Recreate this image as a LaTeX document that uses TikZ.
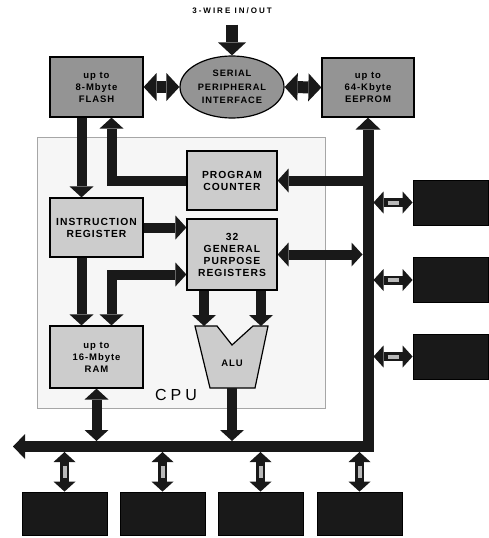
\documentclass[tikz,border=0pt]{standalone}
\usepackage{fontspec}
\setmainfont{Liberation Sans}
\newfontfamily\boxfont[LetterSpace=10]{Liberation Sans}
\newfontfamily\wirefont[LetterSpace=25]{Liberation Sans}
\newfontfamily\cpufont[LetterSpace=25]{Liberation Sans}
\usepackage{tikz}
\usetikzlibrary{arrows.meta,shapes.geometric}
\definecolor{memfill}{gray}{0.58}
\definecolor{regfill}{gray}{0.80}
\definecolor{cpuback}{gray}{0.965}
\definecolor{iofill}{gray}{0.10}
\definecolor{flowblk}{gray}{0.10}

\tikzset{
  >={Triangle[width=24pt,length=11pt,line width=0pt]},
  memtext/.style={font=\boxfont\bfseries\fontsize{9.5}{12}\selectfont},
  regtext/.style={font=\boxfont\bfseries\fontsize{10.3}{12}\selectfont},
  membox/.style={draw=black, line width=1.2pt, fill=memfill, minimum width=93pt, minimum height=60pt, align=center, inner sep=0pt, memtext},
  regbox/.style={draw=black, line width=1.2pt, fill=regfill, minimum width=90pt, minimum height=59pt, align=center, inner sep=0pt, regtext},
  spibox/.style={ellipse, draw=black, line width=1.2pt, fill=memfill, minimum width=104pt, minimum height=62pt, align=center, inner sep=0pt, font=\boxfont\bfseries\fontsize{9.3}{13.5}\selectfont},
  cpuarea/.style={draw=gray!70, line width=0.6pt, fill=cpuback},
  alubox/.style={draw=black, line width=1.2pt, fill=regfill, line join=miter},
  iobox/.style={draw=black, line width=0.8pt, fill=iofill, inner sep=0pt},
  flow/.style={draw=flowblk, line width=10pt, line join=miter},
  spiflow/.style={draw=flowblk, line width=12pt, >={Triangle[width=28pt,length=13pt,line width=0pt]}},
  bus/.style={draw=flowblk, line width=11pt, line join=miter, >={Triangle[width=25pt,length=12pt,line width=0pt]}},
  link/.style={draw=flowblk, line width=9pt, <->, >={Triangle[width=22pt,length=10pt,line width=0pt]}},
  linkcore/.style={draw=gray!55, line width=4pt, shorten <=14pt, shorten >=14pt},
}

\begin{document}
\begin{tikzpicture}[x=1pt,y=-1pt]
  \useasboundingbox (0,0) rectangle (488,538);

  %--- CPU area ---
  \node[cpuarea, minimum width=288pt, minimum height=271pt] (cpu) at (181,272.5) {};
  \node[font=\cpufont\fontsize{16}{16}\selectfont] (cpulabel) at (176,395) {CPU};

  %--- Serial memories ---
  \node[font=\wirefont\bfseries\fontsize{8}{9}\selectfont] (wire) at (232,11) {3-WIRE IN/OUT};
  \node[membox] (flash) at (96.5,87) {up to\\8-Mbyte\\FLASH};
  \node[spibox] (spi) at (232,87) {SERIAL\\PERIPHERAL\\INTERFACE};
  \node[membox, minimum width=92pt, minimum height=59pt] (eeprom) at (368,87.5) {up to\\64-Kbyte\\EEPROM};

  \draw[spiflow,->] ([yshift=-7pt]wire.south) -- (spi.north);
  \draw[spiflow,<->] (flash.east) -- (spi.west);
  \draw[spiflow,<->] (spi.east) -- (eeprom.west);

  %--- CPU blocks ---
  \node[regbox] (pc) at (232,180.5) {PROGRAM\\COUNTER};
  \node[regbox, minimum width=93pt] (ir) at (96.5,227.5) {INSTRUCTION\\REGISTER};
  \node[regbox, minimum height=71pt] (gpr) at (232,254.5) {32\\GENERAL\\PURPOSE\\REGISTERS};
  \node[regbox, minimum width=93pt, minimum height=62pt, memtext] (ram) at (96.5,357) {up to\\16-Mbyte\\RAM};

  % ALU
  \draw[alubox] (195,326) -- (217,326) -- (232,345) -- (253,326) -- (268,326) -- (255,388) -- (210,388) -- cycle;
  \node[font=\boxfont\bfseries\fontsize{9.5}{10}\selectfont] (alu) at (232,363) {ALU};
  \coordinate (aluinA) at (204,326);
  \coordinate (aluinB) at (261,326);
  \coordinate (aluout) at (232,388);

  %--- Bus ---
  \coordinate (busL) at (13,446.5);
  \coordinate (busC) at (368,446.5);
  \coordinate (busT) at (0,441);
  \coordinate (busB) at (0,452);
  \coordinate (busW) at (362.5,0);
  \coordinate (busE) at (373.5,0);
  \draw[bus,<->] (busL) -- (busC) -- (eeprom.south);

  %--- CPU data paths ---
  \draw[flow,->] ([xshift=-15pt]flash.south) -- ([xshift=-15pt]ir.north);
  \draw[flow,->] (pc.west) -| ([xshift=15pt]flash.south);
  \draw[flow,->] ([xshift=-15pt]ir.south) -- ([xshift=-15pt]ram.north);
  \draw[flow,<->] ([yshift=-20pt]gpr.west) -| ([xshift=15pt]ram.north);
  \draw[flow,->] (ir.east) -- (ir.east -| gpr.west);
  \draw[flow,->] (gpr.south -| aluinA) -- (aluinA);
  \draw[flow,->] (gpr.south -| aluinB) -- (aluinB);
  \draw[flow,->] (aluout) -- (aluout |- busT);
  \draw[flow,<->] (ram.south) -- (ram.south |- busT);
  \draw[flow,->] (busC |- pc.east) -- (pc.east);
  \draw[flow,<->] (gpr.east) -- (gpr.east -| busW);

  %--- Peripherals ---
  \foreach \n/\y in {1/202.5,2/280,3/356.5} {
    \node[iobox, minimum width=75pt, minimum height=45pt] (dev\n) at (450.5,\y) {};
    \draw[link] (dev\n.west -| busE) -- (dev\n.west);
    \draw[linkcore] (dev\n.west -| busE) -- (dev\n.west);
  }
  \foreach \n/\x in {1/64.5,2/162.5,3/260.5,4/359.5} {
    \node[iobox, minimum width=85pt, minimum height=43pt] (port\n) at (\x,513.5) {};
    \draw[link] (port\n.north |- busB) -- (port\n.north);
    \draw[linkcore] (port\n.north |- busB) -- (port\n.north);
  }
\end{tikzpicture}
\end{document}
